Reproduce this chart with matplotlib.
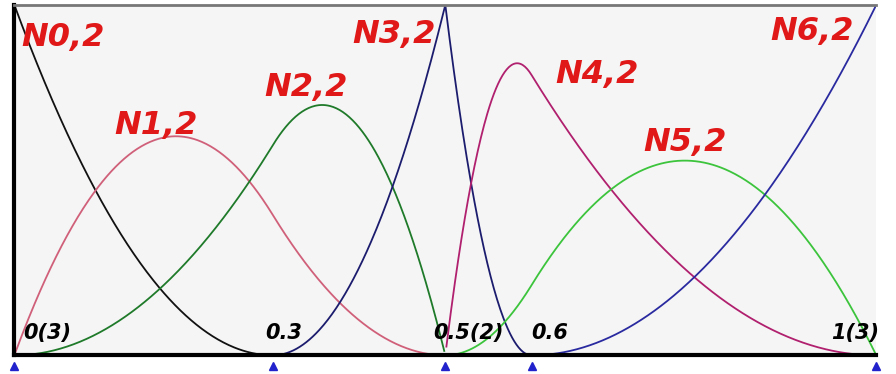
import numpy as np
import matplotlib.pyplot as plt

# knot vector and degree of the B-spline basis
knots = [0, 0, 0, 0.3, 0.5, 0.5, 0.6, 1, 1, 1]
degree = 2
basis_names = ["N0,2", "N1,2", "N2,2", "N3,2", "N4,2", "N5,2", "N6,2"]
curve_colors = ["#111111", "#d0607a", "#1f7a2a", "#1c1c6e", "#b0206e", "#3cc43c", "#2a2aa0"]
label_pos = [(0.056, 0.906), (0.164, 0.657), (0.338, 0.763), (0.44, 0.914),
             (0.676, 0.80), (0.778, 0.606), (0.926, 0.923)]
knot_ticks = [0, 0.3, 0.5, 0.6, 1]
knot_labels = ["0(3)", "0.3", "0.5(2)", "0.6", "1(3)"]
knot_label_x = [0.038, 0.312, 0.527, 0.621, 0.976]


def basis(i, p, u, t):
    if p == 0:
        if t[i] <= u < t[i + 1]:
            return 1.0
        if u == t[-1] and t[i] < t[i + 1] == t[-1]:
            return 1.0
        return 0.0
    a = 0.0
    if t[i + p] != t[i]:
        a = (u - t[i]) / (t[i + p] - t[i]) * basis(i, p - 1, u, t)
    b = 0.0
    if t[i + p + 1] != t[i + 1]:
        b = (t[i + p + 1] - u) / (t[i + p + 1] - t[i + 1]) * basis(i + 1, p - 1, u, t)
    return a + b


u = np.linspace(0, 1, 801)

fig = plt.figure(figsize=(8.96, 3.74), dpi=100)
fig.patch.set_facecolor("white")
ax = fig.add_axes([0.016, 0.05, 0.962, 0.937])
ax.set_facecolor("#f5f5f5")

for i, (name, col) in enumerate(zip(basis_names, curve_colors)):
    vals = np.array([basis(i, degree, x, knots) for x in u])
    mask = vals > 0
    if i == 0:
        mask = u <= knots[3]
    if i == 6:
        mask = u >= knots[-4]
    ax.plot(u[mask], vals[mask], color=col, lw=1.3)
    ax.text(label_pos[i][0], label_pos[i][1], name, color="#e01818", fontsize=23,
            fontstyle="italic", fontweight="bold", ha="center", va="center")

for x, lab in zip(knot_label_x, knot_labels):
    ax.text(x, 0.065, lab, color="black", fontsize=15, fontstyle="italic",
            fontweight="bold", ha="center", va="center")

ax.plot(knot_ticks, [-0.03] * len(knot_ticks), linestyle="none", marker="^",
        color="#2222cc", markersize=6, clip_on=False)

ax.set_xlim(0, 1)
ax.set_ylim(0, 1)
ax.set_xticks([])
ax.set_yticks([])
ax.spines["left"].set_linewidth(3)
ax.spines["left"].set_color("black")
ax.spines["bottom"].set_linewidth(3)
ax.spines["bottom"].set_color("black")
ax.spines["top"].set_linewidth(2)
ax.spines["top"].set_color("#777777")
ax.spines["right"].set_visible(False)

plt.savefig("out.png", dpi=100)
plt.close()
